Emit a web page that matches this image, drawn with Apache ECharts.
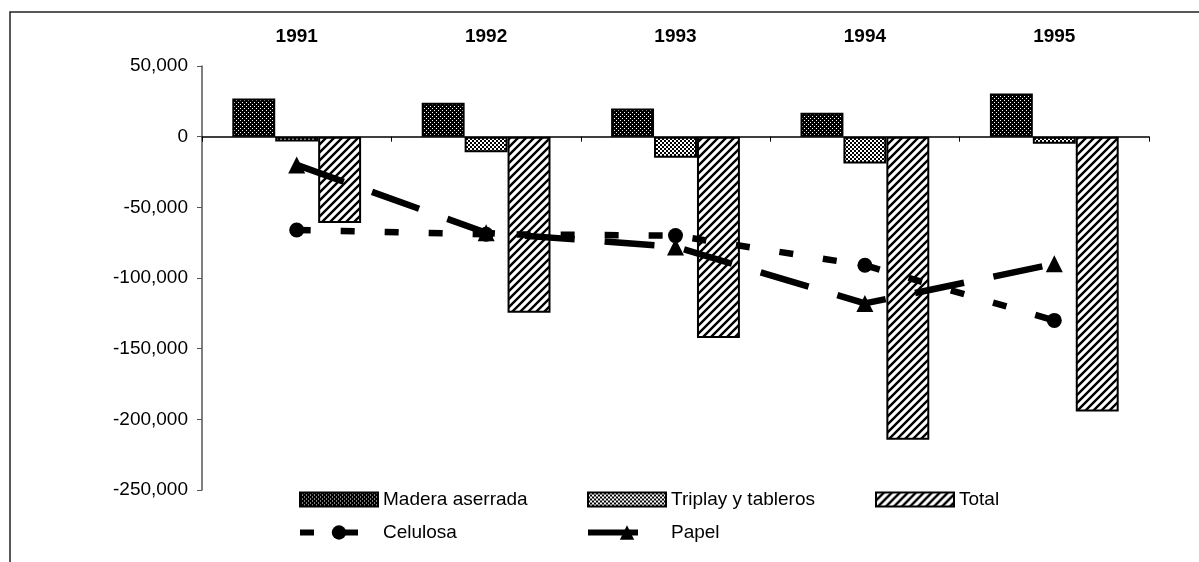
<!DOCTYPE html>
<html>
<head>
<meta charset="utf-8">
<script src="https://cdn.jsdelivr.net/npm/echarts@6/dist/echarts.min.js"></script>
<style>
html,body{margin:0;padding:0;background:#fff;}
#chart{width:1199px;height:562px;}
</style>
</head>
<body>
<div id="chart"></div>
<script>
// ---- data ----
var years = ['1991', '1992', '1993', '1994', '1995'];
var madera = [27000, 24000, 20000, 17000, 30500];
var triplay = [-3500, -11000, -15000, -19000, -5000];
var total = [-61000, -124500, -142500, -214500, -194500];
var celulosa = [-66000, -69000, -70000, -91000, -130000];
var papel = [-20000, -68000, -78000, -118000, -90000];
var seriesNames = ['Madera aserrada', 'Triplay y tableros', 'Total', 'Celulosa', 'Papel'];

// ---- patterns ----
function makeCanvas(w, h, draw) {
  var c = document.createElement('canvas');
  c.width = w; c.height = h;
  draw(c.getContext('2d'));
  return c;
}
var patMadera = makeCanvas(4, 4, function (ctx) {
  ctx.fillStyle = '#000'; ctx.fillRect(0, 0, 4, 4);
  ctx.fillStyle = '#fff'; ctx.fillRect(0, 0, 1, 1); ctx.fillRect(2, 2, 1, 1);
});
var patTriplay = makeCanvas(4, 4, function (ctx) {
  ctx.fillStyle = '#fff'; ctx.fillRect(0, 0, 4, 4);
  ctx.fillStyle = '#000'; ctx.fillRect(0, 0, 2, 2); ctx.fillRect(2, 2, 2, 2);
});
var patTotal = makeCanvas(8, 8, function (ctx) {
  ctx.fillStyle = '#fff'; ctx.fillRect(0, 0, 8, 8);
  ctx.strokeStyle = '#000'; ctx.lineWidth = 2.4;
  ctx.beginPath();
  ctx.moveTo(-1, 9); ctx.lineTo(9, -1);
  ctx.moveTo(-5, 5); ctx.lineTo(5, -5);
  ctx.moveTo(3, 13); ctx.lineTo(13, 3);
  ctx.stroke();
});

function fmt(v) {
  var s = String(Math.abs(v)).replace(/\B(?=(\d{3})+(?!\d))/g, ',');
  return (v < 0 ? '-' : '') + s;
}

var font = '"Liberation Sans", Arial, sans-serif';
var chart = echarts.init(document.getElementById('chart'), null, {renderer: 'canvas'});

function barSeries(name, data, pat) {
  return {
    name: name, type: 'bar', data: data,
    xAxisIndex: 0,
    barGap: '0%', barCategoryGap: '32%',
    itemStyle: {color: {image: pat, repeat: 'repeat'}, borderColor: '#000', borderWidth: 2},
    emphasis: {disabled: true}
  };
}

var legendText = {fontFamily: font, fontSize: 19, color: '#000'};
function barLegend(name, left) {
  return {
    data: [{name: name, icon: 'rect'}], left: left, top: 490, padding: 0,
    itemWidth: 78, itemHeight: 14, textStyle: legendText, selectedMode: false
  };
}
function lineLegend(name, left, dash) {
  return {
    data: [name], left: left, top: 523, padding: 0,
    itemWidth: 78, itemHeight: 18, textStyle: legendText, selectedMode: false,
    lineStyle: {width: 6, type: dash, color: '#000'}
  };
}

var option = {
  animation: false,
  backgroundColor: '#fff',
  graphic: [{
    type: 'rect', shape: {x: 10, y: 12, width: 1300, height: 700},
    style: {fill: 'none', stroke: '#222', lineWidth: 1.5}, silent: true, z: -1
  }],
  grid: {left: 202, right: 50, top: 66, bottom: 72, containLabel: false},
  legend: [
    barLegend(seriesNames[0], 299),
    barLegend(seriesNames[1], 587),
    barLegend(seriesNames[2], 875),
    lineLegend(seriesNames[3], 297, [14, 30]),
    lineLegend(seriesNames[4], 585, [50, 30])
  ],
  xAxis: [{
    type: 'category', data: years, position: 'top',
    axisLine: {show: false, onZero: false}, axisTick: {show: false},
    axisLabel: {fontFamily: font, fontSize: 19, fontWeight: 'bold', color: '#000', margin: 20}
  }, {
    type: 'category', data: years, position: 'bottom',
    axisLine: {show: true, onZero: true, lineStyle: {color: '#000', width: 1.5}},
    axisTick: {show: true, length: 5, lineStyle: {color: '#000'}},
    axisLabel: {show: false}
  }],
  yAxis: {
    type: 'value', min: -250000, max: 50000, interval: 50000,
    axisLine: {show: true, lineStyle: {color: '#555', width: 1.5}},
    axisTick: {show: true, length: 5, lineStyle: {color: '#555'}},
    splitLine: {show: false},
    axisLabel: {fontFamily: font, fontSize: 19, color: '#000', margin: 14, formatter: fmt}
  },
  series: [
    barSeries(seriesNames[0], madera, patMadera),
    barSeries(seriesNames[1], triplay, patTriplay),
    barSeries(seriesNames[2], total, patTotal),
    {
      name: seriesNames[3], type: 'line', data: celulosa, xAxisIndex: 0,
      symbol: 'circle', symbolSize: 15,
      itemStyle: {color: '#000'},
      lineStyle: {color: '#000', width: 6.5, type: [14, 30]},
      z: 5
    },
    {
      name: seriesNames[4], type: 'line', data: papel, xAxisIndex: 0,
      symbol: 'triangle', symbolSize: 17,
      itemStyle: {color: '#000'},
      lineStyle: {color: '#000', width: 6.5, type: [50, 30]},
      z: 6
    }
  ]
};
chart.setOption(option);
</script>
</body>
</html>
